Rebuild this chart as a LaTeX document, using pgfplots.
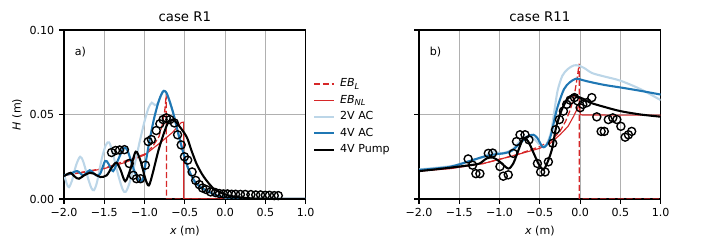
\documentclass[border=0pt]{standalone}
\usepackage{fontspec}
\setmainfont{DejaVu Sans}
\usepackage{pgfplots}
\pgfplotsset{compat=1.18}
\definecolor{tabblue}{HTML}{1F77B4}
\definecolor{ltblue}{HTML}{BCD6E8}
\definecolor{tabred}{HTML}{D62728}
\definecolor{gridgray}{HTML}{B0B0B0}
\pgfplotsset{
 myaxis/.style={
  scale only axis, width=174bp, height=121.68bp,
  xmin=-2, xmax=1, ymin=0, ymax=0.1,
  xtick={-2,-1.5,-1,-0.5,0,0.5,1},
  xticklabels={−2.0,−1.5,−1.0,−0.5,0.0,0.5,1.0},
  ytick={0,0.05,0.1},
  tick pos=left,
  grid=major, major grid style={gridgray, line width=0.8bp},
  axis line style={line width=0.8bp},
  tick align=outside, major tick length=3.5bp,
  every tick/.style={black, line width=0.8bp},
  tick label style={font=\fontsize{8}{9.6}\selectfont},
  label style={font=\fontsize{8}{9.6}\selectfont},
  title style={font=\fontsize{9.6}{11.5}\selectfont, at={(axis description cs:0.5,1)}, anchor=base},
  xlabel={\textit{x} (m)},
  xlabel style={at={(axis description cs:0.5,-0.19)}, anchor=center},
 },
 ebl/.style={tabred, line width=0.9bp, dash pattern=on 4.4bp off 1.9bp},
 ebnl/.style={tabred, line width=0.8bp},
 v2/.style={ltblue, line width=1.5bp},
 v4/.style={tabblue, line width=1.5bp},
 pump/.style={black, line width=1.5bp},
 obs/.style={only marks, mark=o, mark size=2.9bp, mark options={black, line width=1bp}},
}
\begin{document}
\begin{tikzpicture}
\useasboundingbox (0,0) rectangle (509.76bp,180bp);
% ---------------- left panel
\begin{axis}[myaxis, at={(46.08bp,36.72bp)}, anchor=south west,
  title={case R1},
  yticklabels={0.00,0.05,0.10},
  ylabel={\textit{H} (m)},
  ylabel style={at={(axis description cs:-0.194,0.5)}, anchor=center},
  legend style={at={(rel axis cs:1.03,0.725)}, anchor=north west, draw=none, fill=none,
     font=\fontsize{8}{9.6}\selectfont, row sep=1.5bp, inner sep=0pt,
     nodes={inner xsep=3.5bp, inner ysep=1.5bp}},
  legend cell align=left,
  legend image code/.code={\draw[#1] (0bp,0bp) -- (14.4bp,0bp);},
]
\addlegendimage{ebl}\addlegendentry{\textit{EB}\textsubscript{\textit{L}}}
\addlegendimage{ebnl}\addlegendentry{\textit{EB}\textsubscript{\textit{NL}}}
\addlegendimage{v2}\addlegendentry{2V AC}
\addlegendimage{v4}\addlegendentry{4V AC}
\addlegendimage{pump}\addlegendentry{4V Pump}
% EB_L
\addplot[ebl, forget plot] coordinates {(-2,0.014) (-1.5,0.0182) (-1.0,0.0265) (-0.9,0.031) (-0.82,0.037) (-0.78,0.044) (-0.75,0.052) (-0.73,0.062) (-0.728,0) (1,0)};
% EB_NL
\addplot[ebnl, forget plot] coordinates {(-2,0.014) (-1.75,0.0158) (-1.5,0.018) (-1.25,0.0215) (-1.0,0.026) (-0.8,0.0335) (-0.65,0.0395) (-0.58,0.0435) (-0.545,0.0452) (-0.515,0.0455) (-0.513,0) (1,0)};
% 2V AC
\addplot[v2, smooth, forget plot] coordinates {(-2.0,0.0145) (-1.965,0.0090) (-1.938,0.0070) (-1.9,0.011) (-1.85,0.020) (-1.80,0.0250) (-1.76,0.022) (-1.70,0.012) (-1.66,0.0065) (-1.628,0.0052) (-1.59,0.010) (-1.53,0.024) (-1.48,0.032) (-1.44,0.0335) (-1.40,0.028) (-1.32,0.013) (-1.27,0.0055) (-1.235,0.0042) (-1.19,0.009) (-1.12,0.021) (-1.06,0.034) (-1.0,0.046) (-0.95,0.054) (-0.91,0.057) (-0.87,0.0555) (-0.83,0.057) (-0.79,0.062) (-0.76,0.064) (-0.72,0.062) (-0.645,0.051) (-0.562,0.035) (-0.48,0.021) (-0.42,0.014) (-0.356,0.009) (-0.27,0.006) (-0.19,0.004) (-0.1,0.002) (0.016,0.0008) (0.2,0.0002) (0.4,0) (1.0,0)};
% 4V AC
\addplot[v4, smooth, forget plot] coordinates {(-2.0,0.0140) (-1.92,0.0150) (-1.835,0.0165) (-1.76,0.0140) (-1.68,0.0170) (-1.6,0.0140) (-1.55,0.0150) (-1.49,0.0225) (-1.45,0.0210) (-1.39,0.0165) (-1.33,0.0230) (-1.26,0.0300) (-1.21,0.0285) (-1.13,0.017) (-1.06,0.0105) (-1.02,0.012) (-0.988,0.021) (-0.94,0.034) (-0.885,0.047) (-0.83,0.057) (-0.79,0.062) (-0.76,0.064) (-0.72,0.062) (-0.645,0.051) (-0.562,0.035) (-0.48,0.021) (-0.42,0.014) (-0.356,0.009) (-0.27,0.006) (-0.19,0.004) (-0.1,0.002) (0.016,0.0008) (0.2,0.0002) (0.4,0) (1.0,0)};
% 4V Pump
\addplot[pump, smooth, forget plot] coordinates {(-2.0,0.0135) (-1.95,0.0150) (-1.917,0.0155) (-1.86,0.0130) (-1.814,0.0120) (-1.75,0.0140) (-1.68,0.0155) (-1.628,0.0150) (-1.55,0.0130) (-1.47,0.0140) (-1.41,0.0185) (-1.35,0.0215) (-1.30,0.0175) (-1.24,0.0105) (-1.18,0.0170) (-1.11,0.0280) (-1.05,0.0225) (-0.99,0.0120) (-0.947,0.0080) (-0.90,0.0150) (-0.82,0.030) (-0.72,0.0440) (-0.655,0.0470) (-0.60,0.0450) (-0.48,0.0370) (-0.42,0.029) (-0.356,0.021) (-0.29,0.015) (-0.232,0.011) (-0.15,0.0065) (-0.067,0.004) (0.05,0.002) (0.18,0.001) (0.4,0.0002) (1.0,0)};
% observations
\addplot[obs, forget plot] coordinates {(-1.41,0.0275) (-1.36,0.0287) (-1.31,0.029) (-1.25,0.0292) (-1.19,0.021) (-1.14,0.014) (-1.10,0.012) (-1.05,0.012) (-0.99,0.020) (-0.955,0.034) (-0.915,0.0352) (-0.855,0.0405) (-0.81,0.0445) (-0.77,0.047) (-0.73,0.048) (-0.685,0.047) (-0.63,0.045) (-0.59,0.038) (-0.545,0.032) (-0.505,0.025) (-0.465,0.023) (-0.41,0.016) (-0.365,0.011) (-0.32,0.0085) (-0.28,0.0065) (-0.235,0.0056) (-0.18,0.0042) (-0.12,0.0038) (-0.07,0.0032) (-0.02,0.003) (0.03,0.0030) (0.08,0.0028) (0.13,0.0028) (0.19,0.0027) (0.25,0.0027) (0.32,0.0026) (0.38,0.0024) (0.44,0.0024) (0.50,0.0022) (0.55,0.0022) (0.61,0.0020) (0.66,0.0020)};
\node[anchor=west, font=\fontsize{8}{9.6}\selectfont] at (rel axis cs:0.025,0.87) {a)};
\end{axis}
% ---------------- right panel
\begin{axis}[myaxis, at={(301.68bp,36.72bp)}, anchor=south west,
  title={case R11},
  yticklabels={,,},
]
\addplot[ebl] coordinates {(-2,0.0165) (-1.2,0.021) (-0.8,0.026) (-0.5,0.031) (-0.35,0.035) (-0.25,0.040) (-0.18,0.046) (-0.12,0.053) (-0.07,0.062) (-0.035,0.072) (-0.012,0.080) (-0.01,0) (1.0,0)};
\addplot[ebnl] coordinates {(-2,0.0165) (-1.6,0.018) (-1.2,0.021) (-0.8,0.026) (-0.5,0.030) (-0.37,0.033) (-0.25,0.038) (-0.15,0.043) (-0.08,0.049) (-0.03,0.054) (-0.005,0.056) (0.0,0.0500) (0.03,0.0497) (1.0,0.0496)};
\addplot[v2, smooth] coordinates {(-2,0.0175) (-1.6,0.0195) (-1.4,0.022) (-1.2,0.025) (-1.1,0.028) (-1.05,0.028) (-0.98,0.027) (-0.85,0.029) (-0.75,0.034) (-0.66,0.037) (-0.58,0.036) (-0.5,0.032) (-0.44,0.031) (-0.40,0.034) (-0.36,0.040) (-0.32,0.052) (-0.28,0.064) (-0.22,0.073) (-0.15,0.077) (-0.08,0.0790) (-0.02,0.0790) (0.05,0.0775) (0.15,0.0745) (0.3,0.0725) (0.5,0.070) (0.75,0.065) (1.0,0.0585)};
\addplot[v4, smooth] coordinates {(-2,0.0172) (-1.8,0.0180) (-1.617,0.0190) (-1.5,0.0205) (-1.368,0.0225) (-1.2,0.025) (-1.05,0.0265) (-0.95,0.027) (-0.85,0.0285) (-0.746,0.033) (-0.65,0.037) (-0.58,0.038) (-0.53,0.036) (-0.47,0.031) (-0.435,0.031) (-0.39,0.034) (-0.35,0.040) (-0.31,0.049) (-0.27,0.056) (-0.2,0.065) (-0.13,0.069) (-0.05,0.0712) (0.02,0.0705) (0.1,0.0695) (0.3,0.0675) (0.5,0.066) (0.75,0.064) (1.0,0.0618)};
\addplot[pump, smooth] coordinates {(-2,0.0165) (-1.8,0.0175) (-1.617,0.0185) (-1.45,0.0195) (-1.368,0.0200) (-1.25,0.021) (-1.16,0.024) (-1.08,0.0245) (-0.995,0.022) (-0.892,0.018) (-0.83,0.021) (-0.788,0.026) (-0.705,0.036) (-0.66,0.035) (-0.622,0.032) (-0.518,0.021) (-0.46,0.0175) (-0.42,0.020) (-0.352,0.029) (-0.30,0.042) (-0.25,0.050) (-0.207,0.055) (-0.15,0.0595) (-0.09,0.0615) (-0.04,0.0608) (0.05,0.0590) (0.124,0.0570) (0.3,0.0545) (0.5,0.0520) (0.75,0.0500) (1.0,0.0487)};
\addplot[obs] coordinates {(-1.39,0.0237) (-1.335,0.0200) (-1.294,0.0150) (-1.244,0.0150) (-1.14,0.0270) (-1.086,0.0272) (-0.995,0.0192) (-0.954,0.0135) (-0.892,0.0143) (-0.83,0.027) (-0.79,0.034) (-0.746,0.038) (-0.684,0.038) (-0.635,0.035) (-0.53,0.021) (-0.49,0.016) (-0.435,0.016) (-0.394,0.022) (-0.34,0.033) (-0.305,0.041) (-0.257,0.047) (-0.207,0.052) (-0.166,0.056) (-0.124,0.0585) (-0.07,0.060) (-0.029,0.058) (0.0,0.054) (0.033,0.056) (0.083,0.057) (0.145,0.060) (0.207,0.0486) (0.261,0.040) (0.30,0.040) (0.35,0.047) (0.406,0.048) (0.456,0.047) (0.506,0.043) (0.559,0.0366) (0.60,0.038) (0.64,0.040)};
\node[anchor=west, font=\fontsize{8}{9.6}\selectfont] at (rel axis cs:0.025,0.87) {b)};
\end{axis}
\end{tikzpicture}
\end{document}
